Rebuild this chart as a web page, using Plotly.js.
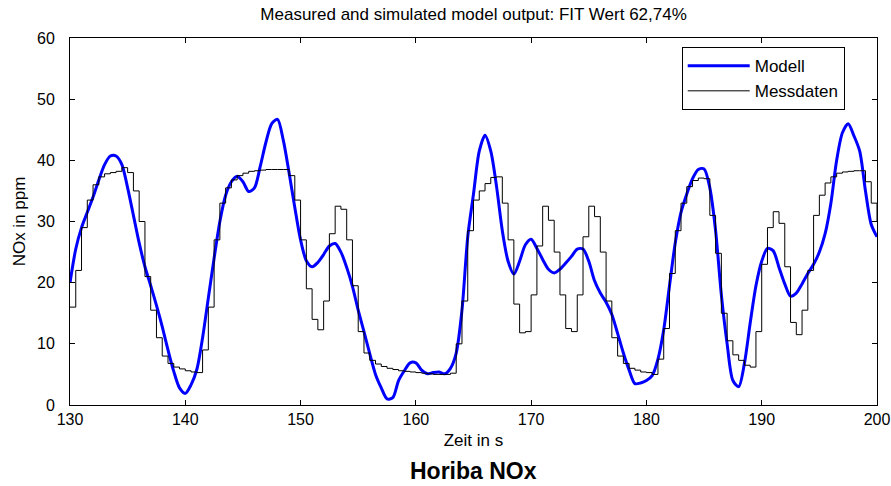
<!DOCTYPE html>
<html>
<head>
<meta charset="utf-8">
<script src="https://cdn.plot.ly/plotly-3.0.1.min.js"></script>
<style>html,body{margin:0;padding:0;background:#fff;}#chart{width:891px;height:486px;}</style>
</head>
<body>
<div id="chart"></div>
<script>
// Time grid (s) shared by both series, 0.5 s step from 130 to 200
const tStart = 130, tStep = 0.5;

// Modell (simulated output), ppm
const modell = [
  20, 25.5, 29, 31.5, 34, 36.8, 39.3, 40.7, 40.7, 39.3,
  35.5, 31, 26.5, 22.6, 19.5, 16.3, 12.8, 9, 5.5, 2.8,
  1.9, 3.3, 5.8, 11, 17.5, 24, 30, 34.3, 36.5, 37.4,
  36.5, 34.9, 35.5, 39, 43, 46, 46.7, 43.3, 38, 32.3,
  27, 23.6, 22.6, 23.3, 24.6, 26, 26.4, 25, 22.5, 19.4,
  15.5, 12, 8.4, 5, 2.8, 1.0, 1.2, 4, 5.6, 6.9,
  6.9, 5.7, 5.1, 5.3, 5.4, 5.1, 6.0, 8.5, 15.5, 27.5,
  34.5, 41.5, 44.1, 41.5, 35.7, 28.5, 23.5, 21.4, 23.5, 26.2,
  27.1, 25.6, 23.8, 22.2, 21.6, 22.2, 23.2, 24.3, 25.5, 25.5,
  23.5, 20.3, 18.3, 16.8, 14.8, 11.7, 8.5, 5.7, 3.5, 3.6,
  4.0, 4.8, 7.5, 12.3, 19.5, 26.5, 31.5, 34.5, 37, 38.5,
  38.6, 35.5, 28.5, 18, 10, 4, 3.0, 6.8, 13.4, 19.5,
  23.5, 25.6, 25.2, 22.5, 19.8, 17.8, 18.3, 19.8, 21.5, 23,
  25, 28, 33, 40, 44.5, 46, 44, 41.5, 35, 29.5,
  27.5
];

// Messdaten (measured), ppm
const messdaten = [
  16, 22, 29, 33.5, 36, 37.3, 37.8, 38, 38.2, 38.8,
  38, 35, 30, 21, 15.5, 11, 8, 6.8, 6.2, 5.9,
  5.6, 5.4, 5.3, 9, 16, 27, 33, 35.5, 36.8, 37.5,
  37.9, 38.2, 38.3, 38.4, 38.5, 38.5, 38.5, 38.5, 37.5, 33.5,
  27, 19, 14, 12.3, 17, 28, 32.5, 32, 27, 19.5,
  12, 8.5, 7.3, 6.7, 6.3, 6.0, 5.8, 5.6, 5.5, 5.4,
  5.3, 5.2, 5.1, 5.0, 5.0, 5.0, 5.2, 10, 17, 28.5,
  33.5, 35, 36.2, 37.2, 37.3, 33, 27, 16.5, 11.8, 12,
  18, 26, 32.5, 30.2, 25, 18, 12.5, 12, 18, 27.5,
  32.5, 30.8, 25, 17, 11, 8, 6.8, 6.0, 5.7, 5.4,
  5.3, 5.0, 7.5, 12.5, 21.5, 28.5, 33, 35.7, 36.7, 37.1,
  37, 31, 24.8, 15, 10.5, 8.2, 7.3, 6.5, 6.2, 12,
  23, 29, 31.6, 29.7, 22.6, 13.5, 11.5, 15.5, 22, 31,
  34.3, 36.3, 37.3, 37.9, 38.1, 38.2, 38.3, 38.3, 36.5, 33,
  30
];

const seriesNames = ['Modell', 'Messdaten'];
const titleText = 'Measured and simulated model output: FIT Wert 62,74%';
const xTitle = 'Zeit in s';
const yTitle = 'NOx in ppm';
const bottomLabel = 'Horiba NOx';
const xTicks = [130, 140, 150, 160, 170, 180, 190, 200];
const yTicks = [0, 10, 20, 30, 40, 50, 60];

const time = modell.map((_, i) => tStart + i * tStep);

const font = 'Liberation Sans, Arial, Helvetica, sans-serif';

const traces = [
  {
    x: time, y: modell, name: seriesNames[0], type: 'scatter', mode: 'lines',
    line: {color: 'rgb(0,0,255)', width: 3, shape: 'spline', smoothing: 0.8}
  },
  {
    x: time, y: messdaten, name: seriesNames[1], type: 'scatter', mode: 'lines',
    line: {color: '#000000', width: 1, shape: 'hv'}
  }
];

const axisCommon = {
  showgrid: false, zeroline: false, showline: true, linecolor: '#000', linewidth: 1,
  mirror: 'ticks', ticks: 'inside', ticklen: 5, tickcolor: '#000', tickwidth: 1,
  tickfont: {family: font, size: 16, color: '#000'}
};

const layout = {
  width: 891, height: 486,
  paper_bgcolor: '#fff', plot_bgcolor: '#fff',
  margin: {l: 70, r: 14, t: 38, b: 81},
  showlegend: true,
  title: {text: titleText, x: 0.5315, xanchor: 'center', y: 0.972, yanchor: 'middle',
          font: {family: font, size: 17, color: '#000'}},
  xaxis: Object.assign({}, axisCommon, {
    range: [130, 200], tickvals: xTicks, ticktext: xTicks.map(String),
    ticklabelstandoff: 0,
    title: {text: xTitle, standoff: 6, font: {family: font, size: 17, color: '#000'}}
  }),
  yaxis: Object.assign({}, axisCommon, {
    range: [0, 60], tickvals: yTicks, ticktext: yTicks.map(String),
    ticklabelstandoff: 11,
    title: {text: yTitle, standoff: 7, font: {family: font, size: 17, color: '#000'}}
  }),
  legend: {
    x: 0.96, xanchor: 'right', y: 0.975, yanchor: 'top',
    bgcolor: '#fff', bordercolor: '#000', borderwidth: 1,
    font: {family: font, size: 17, color: '#000'},
    tracegroupgap: 0, itemwidth: 62
  },
  annotations: [{
    text: '<b>' + bottomLabel + '</b>', xref: 'paper', yref: 'paper',
    x: 0.5, y: -0.181, xanchor: 'center', yanchor: 'middle', showarrow: false,
    font: {family: font, size: 23, color: '#000'}
  }]
};

Plotly.newPlot('chart', traces, layout, {staticPlot: true, displayModeBar: false});
</script>
</body>
</html>
